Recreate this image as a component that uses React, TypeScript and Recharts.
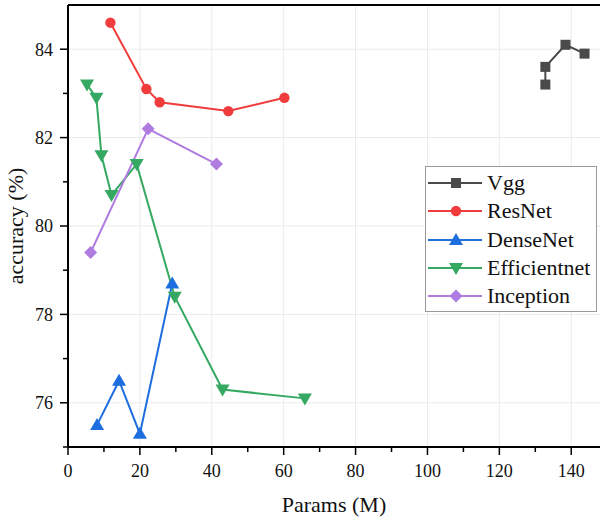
import { LineChart, Line, XAxis, YAxis, CartesianGrid, Legend, ReferenceLine } from "recharts";

const vggParams = [132.8, 132.8, 138.4, 143.7];
const vggAcc = [83.2, 83.6, 84.1, 83.9];
const resnetParams = [11.8, 21.8, 25.5, 44.6, 60.2];
const resnetAcc = [84.6, 83.1, 82.8, 82.6, 82.9];
const densenetParams = [8.1, 14.2, 20.0, 29.0];
const densenetAcc = [75.5, 76.5, 75.3, 78.7];
const effParams = [5.3, 7.9, 9.3, 12.1, 19.1, 29.7, 43.0, 65.9];
const effAcc = [83.2, 82.9, 81.6, 80.7, 81.4, 78.4, 76.3, 76.1];
const inceptionParams = [6.3, 22.3, 41.3];
const inceptionAcc = [79.4, 82.2, 81.4];

const xTicks = [0, 10, 20, 30, 40, 50, 60, 70, 80, 90, 100, 110, 120, 130, 140];
const yTicks = [75, 76, 77, 78, 79, 80, 81, 82, 83, 84];
const xGrid = [20, 40, 60, 80, 100, 120, 140];
const yGrid = [76, 78, 80, 82, 84];

const FONT = "'Liberation Serif', 'Times New Roman', serif";

const zip = (xs: number[], ys: number[]) => xs.map((x, i) => ({ x, y: ys[i] }));

type Shape = "square" | "circle" | "triangle" | "down" | "diamond";

const series: { name: string; color: string; shape: Shape; data: { x: number; y: number }[] }[] = [
  { name: "Vgg", color: "#4a4a4a", shape: "square", data: zip(vggParams, vggAcc) },
  { name: "ResNet", color: "#f03c3c", shape: "circle", data: zip(resnetParams, resnetAcc) },
  { name: "DenseNet", color: "#1f6ee0", shape: "triangle", data: zip(densenetParams, densenetAcc) },
  { name: "Efficientnet", color: "#35a862", shape: "down", data: zip(effParams, effAcc) },
  { name: "Inception", color: "#b07ce0", shape: "diamond", data: zip(inceptionParams, inceptionAcc) },
];

function Marker({ shape, cx, cy, color }: { shape: Shape; cx: number; cy: number; color: string }) {
  if (cx == null || cy == null) return null;
  switch (shape) {
    case "square":
      return <rect x={cx - 5} y={cy - 5} width={10} height={10} fill={color} />;
    case "circle":
      return <circle cx={cx} cy={cy} r={5.2} fill={color} />;
    case "triangle":
      return <polygon points={`${cx},${cy - 7} ${cx + 7},${cy + 5} ${cx - 7},${cy + 5}`} fill={color} />;
    case "down":
      return <polygon points={`${cx},${cy + 7} ${cx + 7},${cy - 5} ${cx - 7},${cy - 5}`} fill={color} />;
    default:
      return <polygon points={`${cx},${cy - 6.5} ${cx + 6.5},${cy} ${cx},${cy + 6.5} ${cx - 6.5},${cy}`} fill={color} />;
  }
}

function XTick(props: any) {
  const { x, y, payload } = props;
  const major = payload.value % 20 === 0;
  const top = y - 8;
  return (
    <g>
      <line x1={x} x2={x} y1={top} y2={top + (major ? 8 : 5)} stroke="#000" strokeWidth={1.5} />
      {major && (
        <text x={x} y={y + 22} textAnchor="middle" fontSize={18} fontFamily={FONT} fill="#111">
          {payload.value}
        </text>
      )}
    </g>
  );
}

function YTick(props: any) {
  const { x, y, payload } = props;
  const major = payload.value % 2 === 0;
  const right = x + 8;
  return (
    <g>
      <line x1={right} x2={right - (major ? 8 : 5)} y1={y} y2={y} stroke="#000" strokeWidth={1.5} />
      {major && (
        <text x={x - 7} y={y} dy="0.35em" textAnchor="end" fontSize={18} fontFamily={FONT} fill="#111">
          {payload.value}
        </text>
      )}
    </g>
  );
}

function LegendBox(props: any) {
  const items = [...(props.payload || [])].sort(
    (a: any, b: any) => series.findIndex((s) => s.name === a.value) - series.findIndex((s) => s.name === b.value)
  );
  return (
    <div
      style={{
        border: "1px solid #9a9a9a",
        background: "#fff",
        paddingTop: 2,
        height: 146,
        boxSizing: "border-box",
      }}
    >
      {items.map((it: any) => {
        const s = series.find((d) => d.name === it.value)!;
        return (
          <div key={it.value} style={{ display: "flex", alignItems: "center", height: 28.3 }}>
            <svg width={60} height={20} style={{ marginLeft: 1, flex: "none" }}>
              <line x1={1} x2={55} y1={10} y2={10} stroke={s.color} strokeWidth={2} />
              <Marker shape={s.shape} cx={29} cy={10} color={s.color} />
            </svg>
            <span style={{ fontSize: 22, color: "#111", lineHeight: "22px", fontFamily: FONT }}>{it.value}</span>
          </div>
        );
      })}
    </div>
  );
}

export default function App() {
  return (
    <div style={{ position: "absolute", left: 0, top: 0, width: 601, height: 520, background: "#fff" }}>
      <LineChart width={601} height={520} margin={{ top: 5, right: 1, left: 0, bottom: 0 }}>
        <CartesianGrid stroke="#ebebeb" verticalValues={xGrid} horizontalValues={yGrid} />
        <XAxis
          type="number"
          dataKey="x"
          domain={[0, 148]}
          ticks={xTicks}
          interval={0}
          allowDataOverflow
          height={73}
          tickSize={8}
          tickMargin={0}
          tickLine={false}
          tick={<XTick />}
          axisLine={{ stroke: "#000", strokeWidth: 2 }}
          label={{
            value: "Params (M)",
            position: "insideBottom",
            offset: 8,
            style: { fontSize: 22, fontFamily: FONT, fill: "#111" },
          }}
        />
        <YAxis
          type="number"
          domain={[75, 85]}
          ticks={yTicks}
          interval={0}
          allowDataOverflow
          width={68}
          tickSize={8}
          tickMargin={0}
          tickLine={false}
          tick={<YTick />}
          axisLine={{ stroke: "#000", strokeWidth: 2 }}
          label={{
            value: "accuracy (%)",
            angle: -90,
            position: "insideLeft",
            offset: 15,
            style: { fontSize: 22, fontFamily: FONT, fill: "#111", textAnchor: "middle" },
          }}
        />
        <ReferenceLine y={85} stroke="#000" strokeWidth={2} />
        {series.map((s) => (
          <Line
            key={s.name}
            name={s.name}
            data={s.data}
            dataKey="y"
            type="linear"
            stroke={s.color}
            strokeWidth={2}
            isAnimationActive={false}
            dot={(p: any) => <Marker key={`${s.name}-${p.index}`} shape={s.shape} cx={p.cx} cy={p.cy} color={s.color} />}
            activeDot={false}
          />
        ))}
        <Legend
          layout="vertical"
          align="center"
          verticalAlign="middle"
          content={<LegendBox />}
          wrapperStyle={{ left: 425, top: 166, width: 172, height: 146 }}
        />
      </LineChart>
    </div>
  );
}
